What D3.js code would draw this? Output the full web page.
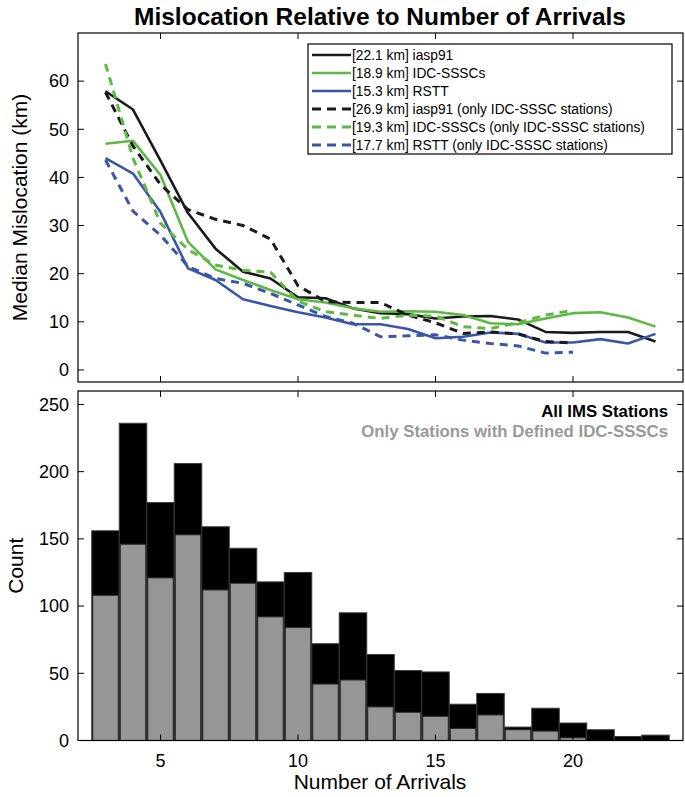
<!DOCTYPE html>
<html><head><meta charset="utf-8">
<script src="https://cdn.jsdelivr.net/npm/d3@7"></script>
<style>body{margin:0;background:#fff}svg{display:block;font-family:"Liberation Sans",Arial,Helvetica,sans-serif}</style>
</head><body><svg id="c" width="685" height="797"></svg>
<script>
// ---- data ----
const arrivals = [3,4,5,6,7,8,9,10,11,12,13,14,15,16,17,18,19,20,21,22,23];
const iasp91   = [57.9,54.1,43.5,32.6,25.2,20.4,19.0,15.1,14.9,12.8,11.8,11.6,10.7,11.1,11.2,10.5,7.9,7.7,7.9,7.9,5.9];
const idcSsscs = [47.0,47.6,40.5,26.6,20.9,18.7,16.6,14.7,14.0,12.8,12.1,12.2,12.1,11.4,9.7,9.5,10.7,11.8,12.0,10.9,9.0];
const rstt     = [44.0,40.8,32.8,21.1,18.7,14.7,13.3,12.0,10.9,9.5,9.5,8.5,6.6,6.9,7.8,7.5,5.7,5.7,6.4,5.5,7.5];
const arrivalsSub = [3,4,5,6,7,8,9,10,11,12,13,14,15,16,17,18,19,20];
const iasp91Sub   = [57.7,46.5,38.5,33.3,31.3,30.0,27.2,17.5,14.2,14.0,14.0,11.4,9.8,7.6,7.9,7.5,5.9,5.6];
const idcSsscsSub = [63.6,44.0,30.5,25.0,21.8,20.7,20.3,14.3,12.1,11.4,10.7,11.4,11.2,9.0,8.6,9.8,11.4,12.4];
const rsttSub     = [43.6,33.0,28.0,21.5,19.0,18.0,15.9,13.5,11.1,9.7,6.9,7.1,7.3,6.2,5.5,5.0,3.5,3.7];
const legendLabels = ["[22.1 km] iasp91","[18.9 km] IDC-SSSCs","[15.3 km] RSTT",
  "[26.9 km] iasp91 (only IDC-SSSC stations)","[19.3 km] IDC-SSSCs (only IDC-SSSC stations)","[17.7 km] RSTT (only IDC-SSSC stations)"];
const countAll = [156,236,177,206,159,143,118,125,72,95,64,52,51,27,35,10,24,13,8,3,4];
const countSub = [108,146,121,153,112,117,92,84,42,45,25,21,18,9,19,8,7,2,0,0,0];
const xTicks = [5,10,15,20];
const yTicksTop = [0,10,20,30,40,50,60];
const yTicksBot = [0,50,100,150,200,250];
const histLegend = ["All IMS Stations","Only Stations with Defined IDC-SSSCs"];

// ---- layout ----
const svg = d3.select("#c");
const L=78, R=683, T1=33, B1=382, T2=391, B2=740.5;
const x = d3.scaleLinear([2,24],[L,R]);
const y1 = d3.scaleLinear([-2.5,70],[B1,T1]);
const y2 = d3.scaleLinear([0,260],[B2,T2]);
const BLACK="#1a1a1a", GREEN="#5db944", BLUE="#3b56a8";

svg.append("text").attr("x",380).attr("y",25).attr("text-anchor","middle")
  .attr("font-weight","bold").attr("font-size",24.5).text("Mislocation Relative to Number of Arrivals");

// ---- top panel ----
const g1 = svg.append("g");
const series = [
  {xs:arrivals, v:iasp91, c:BLACK, d:null},
  {xs:arrivals, v:idcSsscs, c:GREEN, d:null},
  {xs:arrivals, v:rstt, c:BLUE, d:null},
  {xs:arrivalsSub, v:iasp91Sub, c:BLACK, d:"8,6"},
  {xs:arrivalsSub, v:idcSsscsSub, c:GREEN, d:"8,6"},
  {xs:arrivalsSub, v:rsttSub, c:BLUE, d:"8,6"}
];
const line = d3.line().x(d=>x(d[0])).y(d=>y1(d[1]));
series.forEach(s=>{
  g1.append("path").attr("d",line(s.xs.map((a,i)=>[a,s.v[i]])))
    .attr("fill","none").attr("stroke",s.c).attr("stroke-width",s.d?3:2.6)
    .attr("stroke-dasharray",s.d).attr("stroke-linejoin","round");
});
function frame(g,top,bot,yScale,yt){
  g.append("rect").attr("x",L).attr("y",top).attr("width",R-L).attr("height",bot-top)
    .attr("fill","none").attr("stroke","#000").attr("stroke-width",1.2);
  const tl=6;
  xTicks.forEach(t=>{
    g.append("line").attr("x1",x(t)).attr("x2",x(t)).attr("y1",bot).attr("y2",bot-tl).attr("stroke","#000");
    g.append("line").attr("x1",x(t)).attr("x2",x(t)).attr("y1",top).attr("y2",top+tl).attr("stroke","#000");
  });
  yt.forEach(t=>{
    g.append("line").attr("x1",L).attr("x2",L+tl).attr("y1",yScale(t)).attr("y2",yScale(t)).attr("stroke","#000");
    g.append("line").attr("x1",R).attr("x2",R-tl).attr("y1",yScale(t)).attr("y2",yScale(t)).attr("stroke","#000");
    g.append("text").attr("x",L-9).attr("y",yScale(t)).attr("dy","0.35em").attr("text-anchor","end")
      .attr("font-size",18).text(t);
  });
}
frame(g1,T1,B1,y1,yTicksTop);

// legend
const lg = svg.append("g");
lg.append("rect").attr("x",308).attr("y",44).attr("width",364).attr("height",110)
  .attr("fill","#fff").attr("stroke","#000").attr("stroke-width",1.2);
series.forEach((s,i)=>{
  const yy = 55 + i*18;
  lg.append("line").attr("x1",312).attr("x2",351).attr("y1",yy).attr("y2",yy)
    .attr("stroke",s.c).attr("stroke-width",s.d?3:2.6).attr("stroke-dasharray",s.d?"9,6":null);
  lg.append("text").attr("x",352).attr("y",yy).attr("dy","0.35em").attr("font-size",13.8).text(legendLabels[i]);
});

svg.append("text").attr("transform",`translate(27,${(T1+B1)/2}) rotate(-90)`).attr("text-anchor","middle")
  .attr("font-size",21).text("Median Mislocation (km)");

// ---- bottom panel ----
const g2 = svg.append("g");
const bw = x(1)-x(0);
g2.selectAll("rect.all").data(arrivals).join("rect").attr("class","all")
  .attr("x",d=>x(d-0.5)).attr("width",bw).attr("y",(d,i)=>y2(countAll[i])).attr("height",(d,i)=>B2-y2(countAll[i]))
  .attr("fill","#000").attr("stroke","#3a3a3a").attr("stroke-width",1);
g2.selectAll("rect.sub").data(arrivals.filter((d,i)=>countSub[i]>0)).join("rect").attr("class","sub")
  .attr("x",d=>x(d-0.5)+1).attr("width",bw-2).attr("y",d=>y2(countSub[arrivals.indexOf(d)]))
  .attr("height",d=>B2-y2(countSub[arrivals.indexOf(d)]))
  .attr("fill","#969696").attr("stroke","#2a2a2a").attr("stroke-width",1);
frame(g2,T2,B2,y2,yTicksBot);
xTicks.forEach(t=>{
  svg.append("text").attr("x",x(t)).attr("y",767).attr("text-anchor","middle").attr("font-size",18).text(t);
});
svg.append("text").attr("x",380).attr("y",789).attr("text-anchor","middle").attr("font-size",21).text("Number of Arrivals");
svg.append("text").attr("transform",`translate(23,${(T2+B2)/2}) rotate(-90)`).attr("text-anchor","middle")
  .attr("font-size",21).text("Count");
svg.append("text").attr("x",668).attr("y",417).attr("text-anchor","end").attr("font-weight","bold")
  .attr("font-size",16.8).attr("fill","#000").text(histLegend[0]);
svg.append("text").attr("x",668).attr("y",437).attr("text-anchor","end").attr("font-weight","bold")
  .attr("font-size",16.8).attr("fill","#999").text(histLegend[1]);
</script></body></html>
